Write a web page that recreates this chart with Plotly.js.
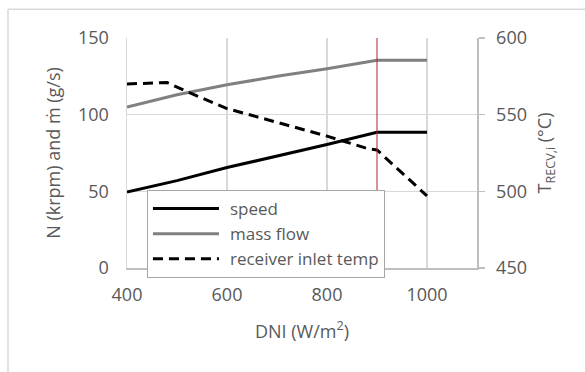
<!DOCTYPE html>
<html>
<head>
<meta charset="utf-8">
<script src="https://cdn.plot.ly/plotly-3.0.1.min.js"></script>
<style>html,body{margin:0;padding:0;background:#fff;}#chart{width:585px;height:372px;}</style>
</head>
<body>
<div id="chart"></div>
<script>
// Data
var dni = [400, 500, 600, 700, 800, 900, 1000];
var speed = [49.5, 57, 65.5, 73, 80.5, 88.5, 88.5];
var massFlow = [105, 113, 119.5, 125, 130, 135.5, 135.5];
var tempDni = [400, 480, 520, 600, 700, 800, 880, 900, 1000];
var receiverTemp = [570, 571, 565, 554, 545, 536, 528, 527, 497];
var designDni = [900];
var seriesNames = ['speed', 'mass flow', 'receiver inlet temp'];

var FONT = 'Open Sans, Liberation Sans, sans-serif';
var FS = 18;
var TXT = '#595959';
var GRID = '#d9d9d9';
var AXIS = '#bfbfbf';

var traces = [
  {x: dni, y: speed, name: seriesNames[0], type: 'scatter', mode: 'lines',
   line: {color: '#000000', width: 3}, yaxis: 'y'},
  {x: dni, y: massFlow, name: seriesNames[1], type: 'scatter', mode: 'lines',
   line: {color: '#808080', width: 3}, yaxis: 'y'},
  {x: tempDni, y: receiverTemp, name: seriesNames[2], type: 'scatter', mode: 'lines',
   line: {color: '#000000', width: 3, dash: '10px,6px'}, yaxis: 'y2'}
];

var layout = {
  width: 585, height: 372,
  margin: {l: 127, r: 108, t: 38, b: 104},
  paper_bgcolor: '#ffffff', plot_bgcolor: '#ffffff',
  font: {family: FONT, size: FS, color: TXT},
  showlegend: true,
  legend: {x: 0.057, y: 0.339, xanchor: 'left', yanchor: 'top',
           bgcolor: '#ffffff', bordercolor: '#a6a6a6', borderwidth: 1,
           itemwidth: 72,
           font: {family: FONT, size: 17, color: TXT}, tracegroupgap: 0},
  xaxis: {range: [400, 1100], tickvals: [400, 600, 800, 1000], showgrid: true,
          gridcolor: GRID, gridwidth: 1.5, zeroline: false, showline: true,
          linecolor: AXIS, linewidth: 1.5, ticks: '', ticklabelstandoff: 10,
          tickfont: {family: FONT, size: FS, color: TXT},
          title: {text: 'DNI (W/m<sup>2</sup>)', font: {family: FONT, size: FS, color: TXT}, standoff: 20}},
  yaxis: {range: [0, 150], tickvals: [0, 50, 100, 150], showgrid: true,
          gridcolor: GRID, gridwidth: 1.5, zeroline: false, showline: true,
          linecolor: GRID, linewidth: 1.5,
          ticks: '', ticklabelstandoff: 13,
          tickfont: {family: FONT, size: FS, color: TXT},
          title: {text: 'N (krpm) and ṁ (g/s)', font: {family: FONT, size: FS, color: TXT}, standoff: 12}},
  yaxis2: {range: [450, 600], tickvals: [450, 500, 550, 600], overlaying: 'y', side: 'right',
           showgrid: false, zeroline: false, showline: true, linecolor: AXIS, linewidth: 1.5,
           ticks: 'outside', ticklen: 6, tickcolor: AXIS, tickwidth: 1.5, ticklabelstandoff: 8,
           tickfont: {family: FONT, size: FS, color: TXT},
           title: {text: 'T<sub>RECV,i</sub> (°C)', font: {family: FONT, size: FS, color: TXT}, standoff: 12}},
  shapes: [
    {type: 'line', xref: 'x', yref: 'paper', x0: designDni[0], x1: designDni[0], y0: -0.02, y1: 1,
     line: {color: '#b22222', width: 1}},
    {type: 'line', xref: 'paper', yref: 'paper', x0: -0.34, x1: 1.35, y0: 1.125, y1: 1.125,
     line: {color: '#d9d9d9', width: 1.5}},
    {type: 'line', xref: 'paper', yref: 'paper', x0: -0.34, x1: -0.34, y0: 1.125, y1: -0.5,
     line: {color: '#d9d9d9', width: 1.5}}
  ]
};

function stretchLegendLines() {
  var paths = document.querySelectorAll('#chart .legend .legendlines path');
  paths.forEach(function (p) { p.setAttribute('d', 'M5,0h66'); });
}

Plotly.newPlot('chart', traces, layout, {staticPlot: true, displayModeBar: false})
  .then(function (gd) {
    stretchLegendLines();
    gd.on('plotly_afterplot', stretchLegendLines);
  });
</script>
</body>
</html>
